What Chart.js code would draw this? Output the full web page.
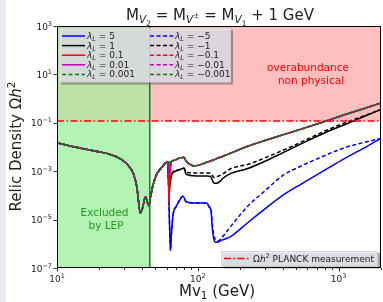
<!DOCTYPE html>
<html>
<head>
<meta charset="utf-8">
<script src="https://cdn.jsdelivr.net/npm/chart.js@4/dist/chart.umd.min.js"></script>
<style>
  html, body { margin: 0; padding: 0; background: #ffffff; }
  #relic { display: block; }
</style>
</head>
<body>
<canvas id="relic" width="383" height="302"></canvas>
<script>
// masses (GeV) shared by every curve
const massGeV = [10, 12, 15, 20, 24, 28, 32, 35, 37, 39,
  40.5, 42.5, 44, 45, 46, 48, 51, 55, 59, 61,
  62, 62.5, 63, 64, 65, 67, 70, 75, 78, 80,
  82, 86, 94, 100, 110, 117, 120, 124, 127, 130,
  134, 138, 145, 150, 172, 226, 300, 400, 550, 800,
  1100, 1500, 2000];

// log10(Omega h^2)
// below ~61 GeV all couplings give the same curve
const lowCommon = [-1.82, -1.94, -2.06, -2.20, -2.31, -2.48, -2.76, -3.13, -3.69, -4.73,
  -4.52, -4.06, -4.31, -4.42, -4.11, -3.59, -3.13, -2.87, -2.66, -2.62];

// 62 GeV .. 2 TeV
const tailSmall = [-2.61, -2.71, -2.61, -2.61, -2.60, -2.56, -2.52, -2.45, -2.43, -2.43,
  -2.56, -2.68, -2.78, -2.76, -2.68, -2.62, -2.60, -2.57, -2.55, -2.53,
  -2.50, -2.46, -2.42, -2.39, -2.25, -1.97, -1.73, -1.50, -1.25, -0.94,
  -0.67, -0.42, -0.18];
const tailL001 = [-2.82, -3.18, -2.82, -2.61, -2.60, -2.56, -2.52, -2.45, -2.43, -2.43,
  -2.56, -2.68, -2.78, -2.76, -2.68, -2.62, -2.60, -2.57, -2.55, -2.53,
  -2.50, -2.46, -2.42, -2.39, -2.25, -1.97, -1.73, -1.50, -1.25, -0.94,
  -0.67, -0.42, -0.18];
const tailL01 = [-3.38, -4.31, -3.49, -2.87, -2.60, -2.56, -2.52, -2.45, -2.43, -2.43,
  -2.56, -2.68, -2.78, -2.76, -2.68, -2.62, -2.60, -2.57, -2.55, -2.53,
  -2.50, -2.46, -2.42, -2.39, -2.25, -1.97, -1.73, -1.50, -1.25, -0.94,
  -0.67, -0.42, -0.18];
const tailL1 = [-3.28, -3.90, -3.69, -3.38, -3.18, -3.05, -2.99, -2.93, -2.89, -2.89,
  -3.09, -3.16, -3.19, -3.20, -3.20, -3.20, -3.21, -3.24, -3.38, -3.48,
  -3.50, -3.49, -3.40, -3.30, -3.09, -2.89, -2.59, -2.24, -1.85, -1.41,
  -1.08, -0.75, -0.45];
const tailLm1 = [-3.18, -3.80, -3.59, -3.28, -3.13, -3.02, -2.97, -2.92, -2.88, -2.87,
  -3.01, -3.06, -3.07, -3.07, -3.07, -3.07, -3.07, -3.09, -3.18, -3.26,
  -3.25, -3.22, -3.16, -3.12, -2.89, -2.72, -2.45, -2.14, -1.78, -1.34,
  -1.01, -0.72, -0.45];
const tailL5 = [-3.59, -4.42, -5.24, -6.28, -5.55, -4.73, -4.47, -4.16, -4.03, -4.09,
  -4.24, -4.29, -4.31, -4.31, -4.31, -4.33, -4.47, -4.62, -5.41, -5.82,
  -5.94, -5.94, -5.88, -5.84, -5.69, -5.13, -4.56, -4.00, -3.51, -2.95,
  -2.48, -2.06, -1.63];
const tailLm5 = [-3.59, -4.42, -5.24, -6.28, -5.55, -4.73, -4.47, -4.16, -4.03, -4.09,
  -4.24, -4.29, -4.31, -4.31, -4.31, -4.33, -4.47, -4.57, -5.24, -5.66,
  -5.84, -5.89, -5.81, -5.71, -5.27, -4.45, -3.81, -3.18, -2.77, -2.35,
  -2.03, -1.82, -1.64];

const planckOmega = 0.12;
const lepBound = 45.6;
const xRange = [10, 2000];
const yRange = [1e-7, 1e3];
const xMajorTicks = [10, 100, 1000];
const xMinorTicks = [20, 30, 40, 50, 60, 70, 80, 90, 200, 300, 400, 500, 600, 700, 800, 900, 2000];
const yTickExps = [-7, -5, -3, -1, 1, 3];

const lambdaPos = ['5', '1', '0.1', '0.01', '0.001'];
const lambdaNeg = ['\u22125', '\u22121', '\u22120.1', '\u22120.01', '\u22120.001'];
const lineColors = ['#0000ff', '#000000', '#ff0000', '#bf00bf', '#008000'];

const FONT = '"DejaVu Sans"';
const DASH = [4, 2.5];
const DASHDOT = [7, 2.5, 1.5, 2.5];

function toPoints(tail) {
    const ys = lowCommon.concat(tail);
    return massGeV.map((m, i) => ({ x: m, y: Math.pow(10, ys[i]) }));
}

function curve(label, tail, color, dashed) {
    return {
        label: label,
        data: toPoints(tail),
        borderColor: color,
        borderWidth: 1.5,
        borderDash: dashed ? DASH : [],
        pointRadius: 0,
        fill: false,
        cubicInterpolationMode: 'monotone'
    };
}

// first dataset ends up on top
const datasets = [
    {
        label: 'planck',
        data: [{ x: xRange[0], y: planckOmega }, { x: xRange[1], y: planckOmega }],
        borderColor: '#ff0000',
        borderWidth: 1.5,
        borderDash: DASHDOT,
        pointRadius: 0,
        fill: false
    },
    curve('-0.001', tailSmall, lineColors[4], true),
    curve('0.001', tailSmall, lineColors[4], true),
    curve('-0.01', tailL001, lineColors[3], true),
    curve('0.01', tailL001, lineColors[3], false),
    curve('-0.1', tailL01, lineColors[2], true),
    curve('0.1', tailL01, lineColors[2], false),
    curve('-1', tailLm1, lineColors[1], true),
    curve('1', tailL1, lineColors[1], false),
    curve('-5', tailLm5, lineColors[0], true),
    curve('5', tailL5, lineColors[0], false)
];

/* ---------- small rich-text helper (sub / superscripts) ---------- */
function fontOf(p) {
    return (p.it ? 'italic ' : '') + p.s + 'px ' + FONT;
}
function richWidth(ctx, parts) {
    let w = 0;
    parts.forEach(p => { ctx.font = fontOf(p); w += ctx.measureText(p.t).width; });
    return w;
}
function drawRich(ctx, parts, x, y, align, color) {
    const w = richWidth(ctx, parts);
    let cx = align === 'center' ? x - w / 2 : (align === 'right' ? x - w : x);
    ctx.textAlign = 'left';
    ctx.textBaseline = 'alphabetic';
    parts.forEach(p => {
        ctx.font = fontOf(p);
        ctx.fillStyle = p.c || color;
        ctx.fillText(p.t, cx, y + (p.dy || 0));
        cx += ctx.measureText(p.t).width;
    });
}
function lambdaLabel(val) {
    return [{ t: '\u03bb', s: 9, it: true }, { t: 'L', s: 6.5, it: true, dy: 2 }, { t: ' = ' + val, s: 9 }];
}
function handle(ctx, x0, x1, y, color, dash) {
    ctx.save();
    ctx.strokeStyle = color;
    ctx.lineWidth = 1.5;
    ctx.setLineDash(dash);
    ctx.beginPath();
    ctx.moveTo(x0, y);
    ctx.lineTo(x1, y);
    ctx.stroke();
    ctx.restore();
}
function legendBox(ctx, x, y, w, h) {
    ctx.fillStyle = 'rgba(60, 60, 65, 0.45)';
    ctx.fillRect(x + 2, y + 2, w, h);
    ctx.fillStyle = 'rgba(234, 234, 242, 0.8)';
    ctx.fillRect(x, y, w, h);
    ctx.strokeStyle = 'rgba(200, 200, 200, 0.8)';
    ctx.lineWidth = 0.8;
    ctx.strokeRect(x + 0.5, y + 0.5, w - 1, h - 1);
}

const decorations = {
    id: 'decorations',
    beforeDraw(chart) {
        const ctx = chart.ctx;
        ctx.save();
        ctx.fillStyle = '#ffffff';
        ctx.fillRect(0, 0, chart.width, chart.height);
        ctx.fillStyle = '#eaeaf2';
        ctx.fillRect(0, 0, 6, chart.height);
        ctx.restore();
    },
    beforeDatasetsDraw(chart) {
        const ctx = chart.ctx;
        const a = chart.chartArea;
        const xs = chart.scales.x, ys = chart.scales.y;
        const xL = xs.getPixelForValue(lepBound);
        const yP = ys.getPixelForValue(planckOmega);
        ctx.save();
        ctx.fillStyle = '#ffbfbf';
        ctx.fillRect(xL, a.top, a.right - xL, yP - a.top);
        ctx.fillStyle = '#bde2a6';
        ctx.fillRect(a.left, a.top, xL - a.left, yP - a.top);
        ctx.fillStyle = '#b3f3b3';
        ctx.fillRect(a.left, yP, xL - a.left, a.bottom - yP);
        ctx.strokeStyle = '#267326';
        ctx.lineWidth = 1.5;
        ctx.beginPath();
        ctx.moveTo(xL, a.top);
        ctx.lineTo(xL, a.bottom);
        ctx.stroke();
        ctx.restore();
    },
    afterDatasetsDraw(chart) {
        const ctx = chart.ctx;
        const a = chart.chartArea;
        const xs = chart.scales.x, ys = chart.scales.y;
        ctx.save();

        // annotations
        drawRich(ctx, [{ t: 'overabundance', s: 10.5 }], 308, 71, 'center', '#ff0000');
        drawRich(ctx, [{ t: 'non physical', s: 10.5 }], 311, 84, 'center', '#ff0000');
        drawRich(ctx, [{ t: 'Excluded', s: 10.5 }], 104.5, 216, 'center', '#1f9a1f');
        drawRich(ctx, [{ t: 'by LEP', s: 10.5 }], 106, 229, 'center', '#1f9a1f');

        // coupling legend
        legendBox(ctx, 59, 28, 172, 54.5);
        const rowY = [36, 45.6, 55.2, 64.8, 74.4];
        for (let i = 0; i < lambdaPos.length; i++) {
            const dashedPos = i === 4;
            handle(ctx, 62, 85, rowY[i], lineColors[i], dashedPos ? DASH : []);
            drawRich(ctx, lambdaLabel(lambdaPos[i]), 87, rowY[i] + 3, 'left', '#222');
            handle(ctx, 150, 173, rowY[i], lineColors[i], DASH);
            drawRich(ctx, lambdaLabel(lambdaNeg[i]), 175, rowY[i] + 3, 'left', '#222');
        }

        // PLANCK legend
        legendBox(ctx, 221, 251, 157, 15.5);
        handle(ctx, 224, 250, 258.5, '#ff0000', DASHDOT);
        drawRich(ctx, [
            { t: '\u03a9', s: 9 }, { t: 'h', s: 9, it: true }, { t: '2', s: 6.5, dy: -3.5 },
            { t: ' PLANCK measurement', s: 9 }
        ], 253, 261.8, 'left', '#222');

        // frame
        ctx.strokeStyle = '#000000';
        ctx.lineWidth = 1;
        ctx.strokeRect(a.left + 0.5, a.top + 0.5, a.right - a.left - 1, a.bottom - a.top - 1);

        // ticks
        ctx.lineWidth = 0.8;
        ctx.beginPath();
        xMajorTicks.forEach(v => {
            const px = Math.round(xs.getPixelForValue(v)) + 0.5;
            ctx.moveTo(px, a.bottom);
            ctx.lineTo(px, a.bottom + 3.5);
        });
        xMinorTicks.forEach(v => {
            const px = Math.round(xs.getPixelForValue(v)) + 0.5;
            ctx.moveTo(px, a.bottom);
            ctx.lineTo(px, a.bottom + 2);
        });
        yTickExps.forEach(e => {
            const py = Math.round(ys.getPixelForValue(Math.pow(10, e))) + 0.5;
            ctx.moveTo(a.left, py);
            ctx.lineTo(a.left - 3.5, py);
        });
        ctx.stroke();

        // tick labels
        xMajorTicks.forEach(v => {
            const px = xs.getPixelForValue(v);
            const e = Math.round(Math.log10(v));
            drawRich(ctx, [{ t: '10', s: 9 }, { t: String(e), s: 6.5, dy: -4 }], px, a.bottom + 14, 'center', '#222');
        });
        yTickExps.forEach(e => {
            const py = ys.getPixelForValue(Math.pow(10, e));
            const ex = e < 0 ? '\u2212' + Math.abs(e) : String(e);
            drawRich(ctx, [{ t: '10', s: 9 }, { t: ex, s: 6.5, dy: -4 }], a.left - 5, py + 3.5, 'right', '#222');
        });

        // axis titles
        drawRich(ctx, [{ t: 'Mv', s: 15 }, { t: '1', s: 10.5, dy: 3 }, { t: ' (GeV)', s: 15 }],
            (a.left + a.right) / 2 - 2, 296, 'center', '#222');
        ctx.save();
        ctx.translate(17, 146.5);
        ctx.rotate(-Math.PI / 2);
        drawRich(ctx, [{ t: 'Relic Density \u03a9', s: 15 }, { t: 'h', s: 15, it: true }, { t: '2', s: 10.5, dy: -6 }],
            0, 4, 'center', '#222');
        ctx.restore();

        // title
        drawRich(ctx, [
            { t: 'M', s: 15 }, { t: 'V', s: 10.5, it: true, dy: 3 }, { t: '2', s: 7.5, dy: 6 },
            { t: ' = M', s: 15 }, { t: 'V', s: 10.5, it: true, dy: 3 }, { t: '\u00b1', s: 7.5, dy: -2 },
            { t: ' = M', s: 15 }, { t: 'V', s: 10.5, it: true, dy: 3 }, { t: '1', s: 7.5, dy: 6 },
            { t: ' + 1 GeV', s: 15 }
        ], 220, 20, 'center', '#222');

        ctx.restore();
    }
};

new Chart(document.getElementById('relic').getContext('2d'), {
    type: 'line',
    data: { datasets: datasets },
    options: {
        responsive: false,
        animation: false,
        devicePixelRatio: 1,
        layout: { padding: { left: 57, right: 2, top: 26, bottom: 34 } },
        scales: {
            x: { type: 'logarithmic', min: xRange[0], max: xRange[1], display: false },
            y: { type: 'logarithmic', min: yRange[0], max: yRange[1], display: false }
        },
        plugins: {
            legend: { display: false },
            tooltip: { enabled: false }
        }
    },
    plugins: [decorations]
});
</script>
</body>
</html>
